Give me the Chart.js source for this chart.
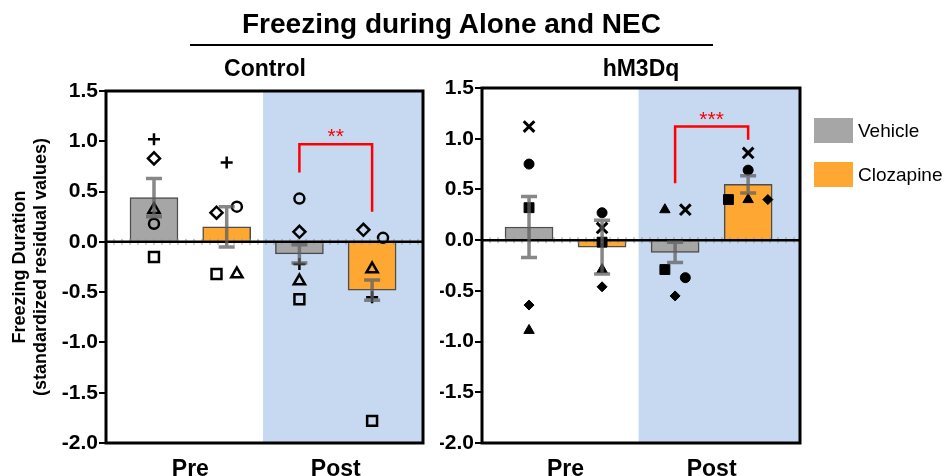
<!DOCTYPE html>
<html>
<head>
<meta charset="utf-8">
<script src="https://cdn.jsdelivr.net/npm/chart.js@4.4.1/dist/chart.umd.min.js"></script>
<style>
  body { margin: 0; background: #fff; font-family: "Liberation Sans", Arial, sans-serif; }
  #wrap { position: relative; width: 944px; height: 476px; overflow: hidden; }
  canvas { position: absolute; top: 0; }
  .txt { position: absolute; white-space: nowrap; color: #000; }
  .box { position: absolute; width: 39px; height: 25px; }
</style>
</head>
<body>
<div id="wrap">
  <canvas id="controlChart" width="440" height="476" style="left:0"></canvas>
  <canvas id="hm3dqChart" width="380" height="476" style="left:440px"></canvas>

  <div class="txt" style="left:190px;width:523px;top:10px;text-align:center;font-size:28px;line-height:28px;font-weight:bold">Freezing during Alone and NEC</div>
  <div style="position:absolute;left:190px;top:44px;width:523px;height:2px;background:#000"></div>
  <div class="txt" style="left:165px;width:200px;top:57px;text-align:center;font-size:23px;line-height:23px;font-weight:bold">Control</div>
  <div class="txt" style="left:541px;width:200px;top:57px;text-align:center;font-size:23px;line-height:23px;font-weight:bold">hM3Dq</div>

  <div class="box" style="left:814px;top:118px;background:#a6a6a6"></div>
  <div class="txt" style="left:858px;top:121px;font-size:19px;line-height:19px">Vehicle</div>
  <div class="box" style="left:814px;top:162px;background:#ffa733"></div>
  <div class="txt" style="left:858px;top:165px;font-size:19px;line-height:19px">Clozapine</div>
</div>

<script>
// x categories and y ticks
const xLabels = ['Pre', 'Post'];
const yTicks = [1.5, 1.0, 0.5, 0.0, -0.5, -1.0, -1.5, -2.0];

// groups in order: Pre Vehicle, Pre Clozapine, Post Vehicle, Post Clozapine
const controlMean = [0.44, 0.15, -0.12, -0.48];
const controlSem = [0.19, 0.20, 0.09, 0.10];
const controlPoints = [
  [1.02, 0.83, 0.32, 0.18, -0.15],
  [0.79, 0.29, 0.35, -0.32, -0.32],
  [0.43, 0.10, -0.22, -0.39, -0.57],
  [0.12, 0.04, -0.27, -0.55, -1.78]
];
const controlShapes = [
  ['plus', 'diamond', 'triangle', 'circle', 'square'],
  ['plus', 'diamond', 'circle', 'square', 'triangle'],
  ['circle', 'diamond', 'plus', 'triangle', 'square'],
  ['diamond', 'circle', 'triangle', 'plus', 'square']
];
const controlJitter = [
  [0, 0, 0, 0, 0],
  [0, -0.14, 0.14, -0.14, 0.14],
  [0, 0, 0, 0, 0],
  [-0.12, 0.15, 0, 0, 0]
];

const hm3dqMean = [0.13, -0.07, -0.12, 0.55];
const hm3dqSem = [0.30, 0.265, 0.10, 0.085];
const hm3dqPoints = [
  [1.12, 0.75, 0.32, -0.64, -0.89],
  [0.27, 0.12, -0.02, -0.29, -0.46],
  [0.30, 0.30, -0.29, -0.37, -0.55],
  [0.86, 0.69, 0.40, 0.40, 0.40]
];
const hm3dqShapes = [
  ['x', 'circle', 'square', 'diamond', 'triangle'],
  ['circle', 'x', 'square', 'triangle', 'diamond'],
  ['triangle', 'x', 'square', 'circle', 'diamond'],
  ['x', 'circle', 'square', 'triangle', 'diamond']
];
const hm3dqJitter = [
  [0, 0, 0, 0, 0],
  [0, 0, 0, 0, 0],
  [-0.14, 0.14, -0.14, 0.14, 0],
  [0, 0, -0.27, 0, 0.27]
];

// significance brackets (Post Vehicle vs Post Clozapine)
const controlSig = { from: 2, to: 3, top: 0.97, leftEnd: 0.69, rightEnd: 0.30, label: '**' };
const hm3dqSig = { from: 2, to: 3, top: 1.12, leftEnd: 0.56, rightEnd: 0.99, label: '***' };

const FONT = '"Liberation Sans", Arial, sans-serif';

// marker style and radius
const openMarkers = {
  plus: ['cross', 6], diamond: ['rectRot', 6], triangle: ['triangle', 6.5],
  circle: ['circle', 5], square: ['rect', 7]
};
const filledMarkers = {
  x: ['crossRot', 7.5], circle: ['circle', 5], square: ['rect', 7],
  diamond: ['rectRot', 5], triangle: ['triangle', 6]
};

function buildPoints(points, shapes, jitter, markers, filled) {
  const data = [], style = [], radius = [], bw = [];
  points.forEach((grp, g) => {
    grp.forEach((v, i) => {
      data.push({ x: g + jitter[g][i], y: v });
      const m = markers[shapes[g][i]];
      style.push(m[0]);
      radius.push(m[1]);
      bw.push(filled ? (shapes[g][i] === 'x' ? 3 : 1) : 2.5);
    });
  });
  return { data, style, radius, bw };
}

const decor = {
  id: 'decor',
  beforeDatasetsDraw(chart, args, o) {
    const { ctx, chartArea: a, scales: { x } } = chart;
    const bx = x.getPixelForValue(1.5);
    ctx.save();
    ctx.fillStyle = '#c6d9f1';
    ctx.fillRect(bx, a.top, a.right - bx, a.bottom - a.top);
    ctx.restore();
  },
  afterDatasetsDraw(chart, args, o) {
    const { ctx, chartArea: a, scales: { x, y } } = chart;
    ctx.save();
    const y0 = y.getPixelForValue(0);
    // small minor marks along the zero line
    ctx.strokeStyle = '#999';
    ctx.lineWidth = 1;
    ctx.beginPath();
    for (let px = a.left + 8; px < a.right; px += 8) {
      ctx.moveTo(px, y0 - 3);
      ctx.lineTo(px, y0 + 3);
    }
    ctx.stroke();
    ctx.strokeStyle = '#000';
    ctx.lineWidth = 2.5;
    ctx.beginPath();
    ctx.moveTo(a.left, y0);
    ctx.lineTo(a.right, y0);
    ctx.stroke();

    // error bars (mean +/- sem)
    ctx.strokeStyle = 'rgba(95,95,95,0.75)';
    ctx.lineWidth = 3.5;
    o.mean.forEach((m, i) => {
      const px = x.getPixelForValue(i);
      const hi = y.getPixelForValue(m + o.sem[i]);
      const lo = y.getPixelForValue(m - o.sem[i]);
      ctx.beginPath();
      ctx.moveTo(px, hi); ctx.lineTo(px, lo);
      ctx.moveTo(px - 8, hi); ctx.lineTo(px + 8, hi);
      ctx.moveTo(px - 8, lo); ctx.lineTo(px + 8, lo);
      ctx.stroke();
    });

    // frame
    ctx.strokeStyle = '#000';
    ctx.lineWidth = 3;
    ctx.strokeRect(a.left, a.top, a.right - a.left, a.bottom - a.top);

    // significance bracket
    const b = o.sig;
    const x1 = x.getPixelForValue(b.from), x2 = x.getPixelForValue(b.to);
    const yt = y.getPixelForValue(b.top);
    ctx.strokeStyle = '#ff0000';
    ctx.lineWidth = 2.5;
    ctx.beginPath();
    ctx.moveTo(x1, y.getPixelForValue(b.leftEnd));
    ctx.lineTo(x1, yt);
    ctx.lineTo(x2, yt);
    ctx.lineTo(x2, y.getPixelForValue(b.rightEnd));
    ctx.stroke();
    ctx.fillStyle = '#ff0000';
    ctx.font = '21px ' + FONT;
    ctx.textAlign = 'center';
    ctx.textBaseline = 'alphabetic';
    ctx.fillText(b.label, (x1 + x2) / 2, yt - 1);
    ctx.restore();
  }
};

function makeChart(id, cfg) {
  const pts = buildPoints(cfg.points, cfg.shapes, cfg.jitter, cfg.markers, cfg.filled);
  const barDs = (idx, color) => ({
    type: 'bar',
    data: idx.map(i => ({ x: i, y: cfg.mean[i] })),
    backgroundColor: color,
    borderColor: '#4d4d4d',
    borderWidth: 1.5,
    barThickness: 48,
    grouped: false,
    order: 2
  });
  return new Chart(document.getElementById(id).getContext('2d'), {
    type: 'bar',
    data: {
      datasets: [
        {
          type: 'scatter',
          data: pts.data,
          pointStyle: pts.style,
          pointRadius: pts.radius,
          pointHoverRadius: pts.radius,
          pointBorderWidth: pts.bw,
          pointBorderColor: '#000',
          pointBackgroundColor: cfg.filled ? '#000' : 'rgba(0,0,0,0)',
          showLine: false,
          order: 1
        },
        barDs([0, 2], '#a6a6a6'),
        barDs([1, 3], '#ffa733')
      ]
    },
    options: {
      responsive: false,
      animation: false,
      devicePixelRatio: 1,
      layout: { padding: { top: cfg.top, right: cfg.right, left: 0, bottom: 0 } },
      plugins: {
        legend: { display: false },
        tooltip: { enabled: false },
        decor: { mean: cfg.mean, sem: cfg.sem, sig: cfg.sig }
      },
      scales: {
        x: {
          type: 'linear',
          offset: false,
          min: cfg.xmin,
          max: cfg.xmax,
          grid: { display: false, drawTicks: false, offset: false },
          border: { display: false },
          afterBuildTicks: s => { s.ticks = [{ value: 0.5 }, { value: 2.5 }]; },
          afterFit: s => { s.height = 33; },
          ticks: {
            autoSkip: false,
            padding: 13,
            color: '#000',
            font: { family: FONT, size: 23, weight: 'bold' },
            callback: v => (v === 0.5 ? xLabels[0] : xLabels[1])
          }
        },
        y: {
          min: -2,
          max: 1.5,
          afterBuildTicks: s => { s.ticks = yTicks.map(v => ({ value: v })); },
          afterFit: s => { s.width = cfg.yWidth; },
          border: { display: false },
          grid: { drawOnChartArea: false, drawTicks: true, tickLength: 7, color: '#000', lineWidth: 2 },
          ticks: {
            padding: 1,
            color: '#000',
            font: { family: FONT, size: 21, weight: 'bold' },
            callback: v => v.toFixed(1)
          },
          title: {
            display: cfg.yTitle,
            text: ['Freezing Duration', '(standardized residual values)'],
            color: '#000',
            font: { family: FONT, size: 18, weight: 'bold', lineHeight: 1.2 },
            padding: { top: 9, bottom: 0 }
          }
        }
      }
    },
    plugins: [decor]
  });
}

makeChart('controlChart', {
  mean: controlMean, sem: controlSem, points: controlPoints, shapes: controlShapes,
  jitter: controlJitter, markers: openMarkers, filled: false, sig: controlSig,
  top: 91, right: 17, yWidth: 106, xmin: -0.66, xmax: 3.70, yTitle: true
});

makeChart('hm3dqChart', {
  mean: hm3dqMean, sem: hm3dqSem, points: hm3dqPoints, shapes: hm3dqShapes,
  jitter: hm3dqJitter, markers: filledMarkers, filled: true, sig: hm3dqSig,
  top: 88, right: 20, yWidth: 42, xmin: -0.644, xmax: 3.71, yTitle: false
});
</script>
</body>
</html>
